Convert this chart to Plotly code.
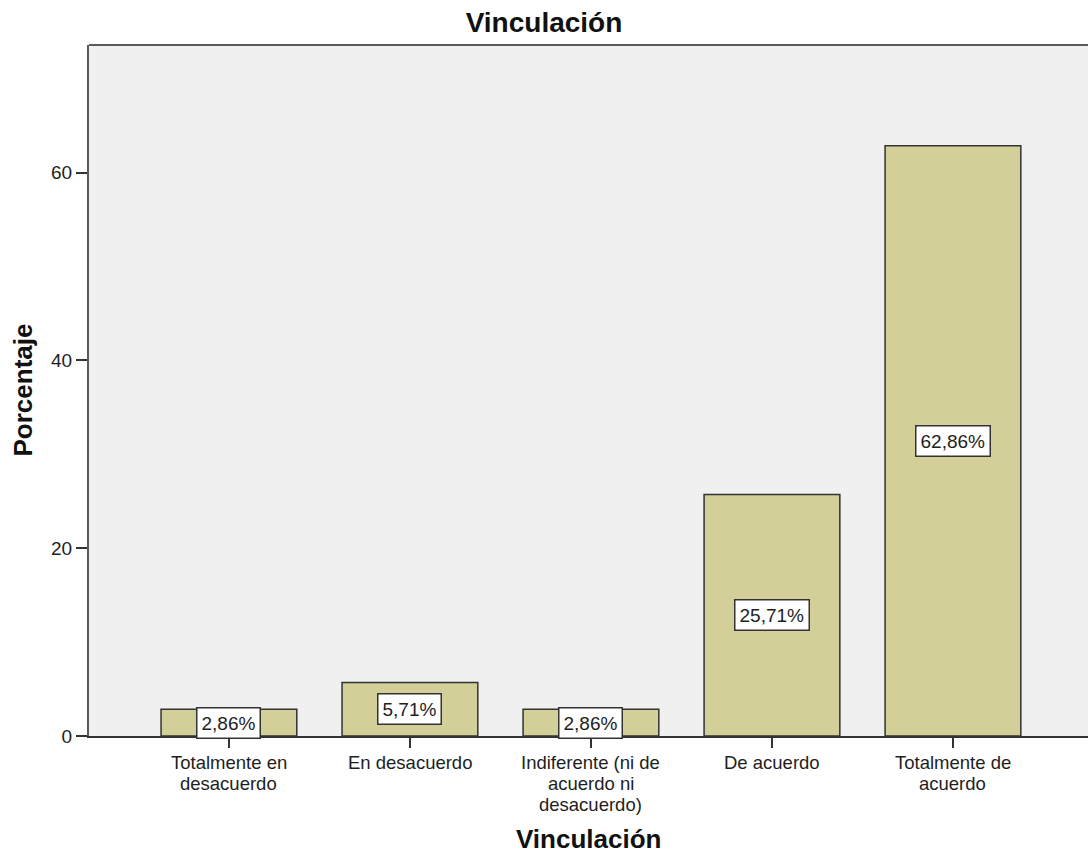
import plotly.graph_objects as go

# Response categories and their percentages
categories = [
    "Totalmente en<br>desacuerdo",
    "En desacuerdo",
    "Indiferente (ni de<br>acuerdo ni<br>desacuerdo)",
    "De acuerdo",
    "Totalmente de<br>acuerdo",
]
percentages = [2.86, 5.71, 2.86, 25.71, 62.86]
y_ticks = [0, 20, 40, 60]

FONT = "Arial, Liberation Sans, sans-serif"
TEXT = "#1e1e1e"
x_idx = list(range(len(categories)))

fig = go.Figure(
    go.Bar(
        x=x_idx,
        y=percentages,
        width=0.75,
        marker=dict(color="#d3cf98", line=dict(color="#333333", width=1.5)),
        hoverinfo="skip",
    )
)

# Value labels in framed boxes at mid-height of each bar
for i, v in enumerate(percentages):
    fig.add_annotation(
        x=i, y=v / 2, xref="x", yref="y",
        text=f"{v:.2f}%".replace(".", ","),
        showarrow=False,
        font=dict(family=FONT, size=19, color=TEXT),
        bgcolor="white", bordercolor="#333333", borderwidth=1.5, borderpad=4,
    )

# Category labels under each tick, one line at a time for tight line spacing
line_offsets = [26, 47, 68]
for i, cat in enumerate(categories):
    for k, line in enumerate(cat.split("<br>")):
        fig.add_annotation(
            x=i, y=0, xref="x", yref="y",
            text=line, showarrow=False,
            xanchor="center", yanchor="middle", yshift=-line_offsets[k],
            borderpad=0,
            font=dict(family=FONT, size=18.5, color=TEXT),
        )

# Axis titles
fig.add_annotation(
    x=0.5, y=0, xref="paper", yref="paper", yshift=-103,
    text="<b>Vinculación</b>", showarrow=False, xanchor="center", yanchor="middle",
    font=dict(family=FONT, size=26, color="#111111"),
)
fig.add_annotation(
    x=0, y=0.5, xref="paper", yref="paper", xshift=-67,
    text="<b>Porcentaje</b>", showarrow=False, textangle=-90,
    xanchor="center", yanchor="middle",
    font=dict(family=FONT, size=26, color="#111111"),
)

# Top frame line of the plot area
fig.add_shape(type="line", xref="paper", yref="paper", x0=0, x1=1, y0=1, y1=1,
              line=dict(color="#5a5a5a", width=2))

fig.update_layout(
    width=1088, height=854,
    margin=dict(l=89, r=0, t=45, b=118),
    paper_bgcolor="white",
    plot_bgcolor="#f0f0f0",
    showlegend=False,
    title=dict(text="<b>Vinculación</b>", x=0.5, xanchor="center", y=0.974, yanchor="middle",
               font=dict(family=FONT, size=28, color="#111111")),
    font=dict(family=FONT, color=TEXT),
)
fig.update_xaxes(
    range=[-0.773, 4.746],
    tickmode="array", tickvals=x_idx, ticktext=[""] * len(x_idx),
    ticks="outside", ticklen=10, tickwidth=2, tickcolor="#333333",
    showline=True, linecolor="#333333", linewidth=2,
    showgrid=False, zeroline=False,
)
fig.update_yaxes(
    range=[0, 73.6],
    tickmode="array", tickvals=y_ticks,
    tickfont=dict(family=FONT, size=19, color=TEXT),
    ticks="outside", ticklen=11, tickwidth=2, tickcolor="#333333",
    showline=True, linecolor="#5a5a5a", linewidth=2,
    showgrid=False, zeroline=False,
)

fig.write_html("out.html")
